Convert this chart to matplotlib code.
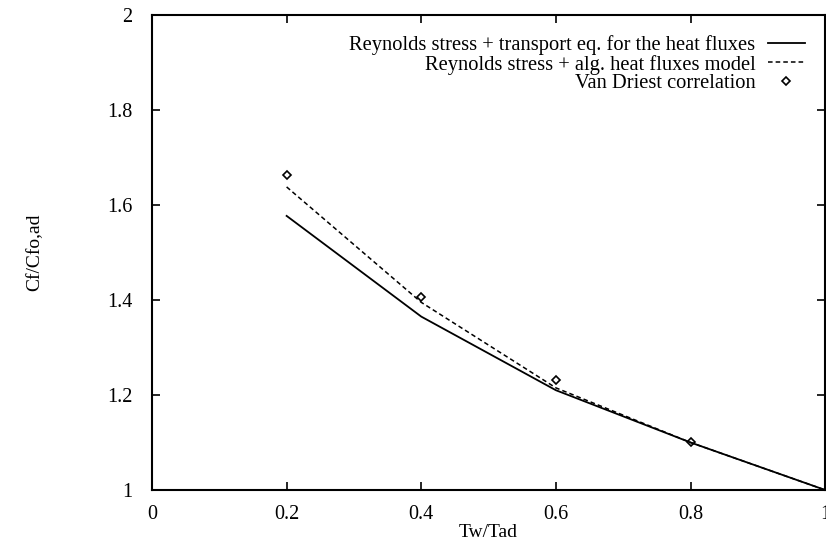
import matplotlib
matplotlib.use("Agg")
import matplotlib.pyplot as plt

plt.rcParams['font.family'] = ['Liberation Serif', 'DejaVu Serif']

# wall temperature ratio and skin friction ratio
tw_tad = [0.2, 0.4, 0.6, 0.8, 1.0]
cf_transport = [1.577, 1.365, 1.210, 1.100, 1.0]
cf_algebraic = [1.638, 1.395, 1.215, 1.100, 1.0]

vd_x = [0.2, 0.4, 0.6, 0.8]
vd_cf = [1.663, 1.406, 1.232, 1.100]

fig = plt.figure(figsize=(8.26, 5.46), dpi=100)
ax = fig.add_axes([0.184, 0.1026, 0.815, 0.87])

ax.plot(tw_tad, cf_transport, color='black', lw=1.3,
        label='Reynolds stress + transport eq. for the heat fluxes')
ax.plot(tw_tad, cf_algebraic, color='black', lw=1.1, ls=(0, (3, 2)),
        label='Reynolds stress + alg. heat fluxes model')
ax.plot(vd_x, vd_cf, ls='none', marker='D', ms=4.5, mfc='none',
        mec='black', mew=1.2, label='Van Driest correlation')

ax.set_xlim(0, 1)
ax.set_ylim(1, 2)
ax.set_xticks([0, 0.2, 0.4, 0.6, 0.8, 1])
ax.set_xticklabels(['0', '0.2', '0.4', '0.6', '0.8', '1'])
ax.set_yticks([1, 1.2, 1.4, 1.6, 1.8, 2])
ax.set_yticklabels(['1', '1.2', '1.4', '1.6', '1.8', '2'])
ax.tick_params(direction='in', top=True, right=True, length=6,
               width=1.2, labelsize=14.5)
ax.tick_params(axis='x', pad=11)
ax.tick_params(axis='y', pad=14)
for s in ax.spines.values():
    s.set_linewidth(1.5)

ax.set_xlabel('Tw/Tad', fontsize=14, labelpad=0)
ax.set_ylabel('Cf/Cfo,ad', fontsize=14, labelpad=46)

leg = ax.legend(loc='upper right', frameon=False, markerfirst=False,
                fontsize=14.8, handlelength=1.8, handletextpad=0.6,
                labelspacing=-0.04, borderaxespad=0.6)
for t in leg.get_texts():
    t.set_ha('right')

fig.savefig('out.png', dpi=100)
